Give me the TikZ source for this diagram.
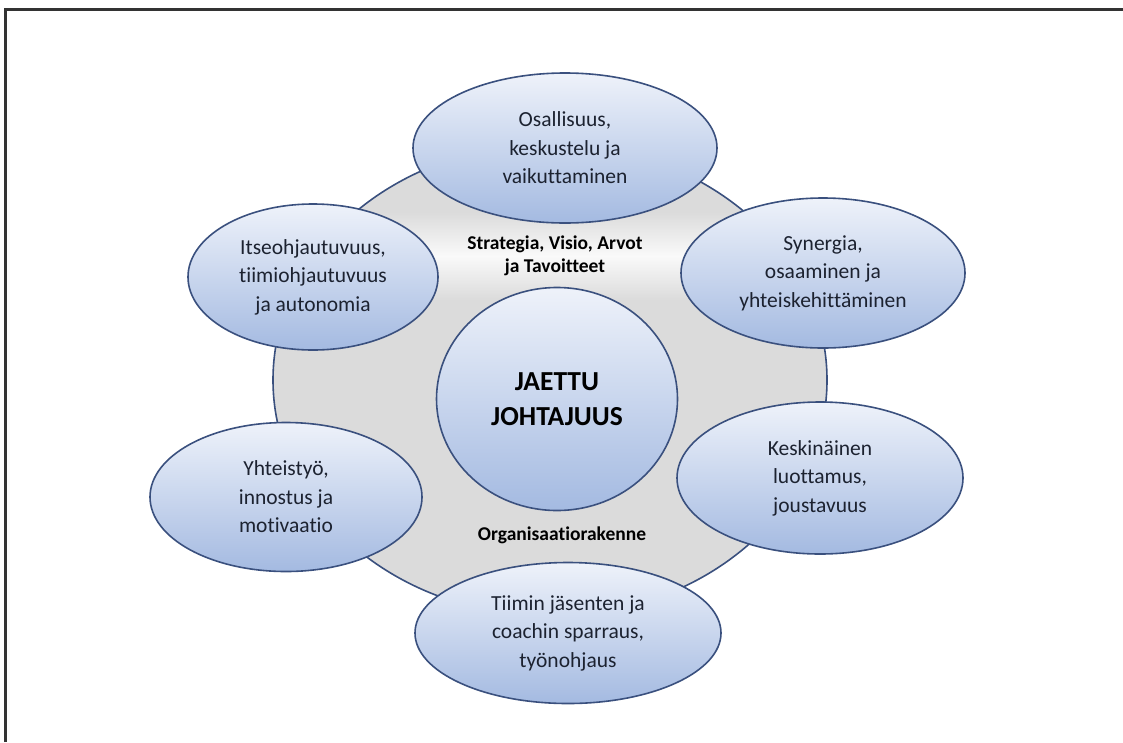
\documentclass[tikz,border=0pt]{standalone}
\usepackage{fontspec}
\setmainfont{Carlito}[Ligatures=NoCommon]
\usepackage{xcolor}
\usepackage{tikz}
\usetikzlibrary{shapes.geometric}
\definecolor{rim}{RGB}{58,80,126}
\definecolor{bubtop}{RGB}{238,242,250}
\definecolor{bubbot}{RGB}{164,186,225}
\definecolor{ringgray}{RGB}{219,219,219}
\definecolor{txt}{RGB}{28,34,48}

\begin{document}
\begin{tikzpicture}[
    x=1pt, y=-1pt,
    line width=1.6pt,
    bubble/.style={ellipse, draw=rim, top color=bubtop, bottom color=bubbot,
      inner sep=0pt, align=center, text=txt,
      font=\fontsize{21.5}{28.5}\selectfont},
    tag/.style={align=center, font=\bfseries\fontsize{19.5}{23}\selectfont}
  ]
    \useasboundingbox (0,0) rectangle (1123,742);
    \draw[line width=3pt, black!80] (5,742) -- (5,9.5) -- (1123,9.5);

    \node[ellipse, draw=rim, fill=ringgray, minimum width=554pt,
      minimum height=472pt] (R) at (550,380) {};
    \begin{scope}
      \clip (550,380) ellipse [x radius=276, y radius=235];
      \shade[top color=ringgray, bottom color=ringgray,
        middle color=white!85!ringgray] (270,212) rectangle (830,300);
    \end{scope}

    \node[tag] (V) at (555,256) {Strategia, Visio, Arvot\\ja Tavoitteet};
    \node[tag] (A) at (562,535) {Organisaatiorakenne};

    \node[bubble, minimum width=241pt, minimum height=223pt,
      font=\bfseries\fontsize{27.5}{35}\selectfont, text=black] (J) at (557,399)
      {JAETTU\\JOHTAJUUS};

    \node[bubble, minimum width=304pt, minimum height=150pt] (O) at (565,148)
      {Osallisuus,\\keskustelu ja\\vaikuttaminen};
    \node[bubble, minimum width=250pt, minimum height=146pt] (I) at (313,277)
      {Itseohjautuvuus,\\tiimiohjautuvuus\\ja autonomia};
    \node[bubble, minimum width=284pt, minimum height=150pt] (S) at (823,273)
      {Synergia,\\osaaminen ja\\yhteiskehittäminen};
    \node[bubble, minimum width=286pt, minimum height=152pt] (K) at (820,478)
      {Keskinäinen\\luottamus,\\joustavuus};
    \node[bubble, minimum width=272pt, minimum height=149pt] (Y) at (286,497)
      {Yhteistyö,\\innostus ja\\motivaatio};
    \node[bubble, minimum width=306pt, minimum height=141pt] (T) at (568,633)
      {Tiimin jäsenten ja\\coachin sparraus,\\työnohjaus};
  \end{tikzpicture}
\end{document}
